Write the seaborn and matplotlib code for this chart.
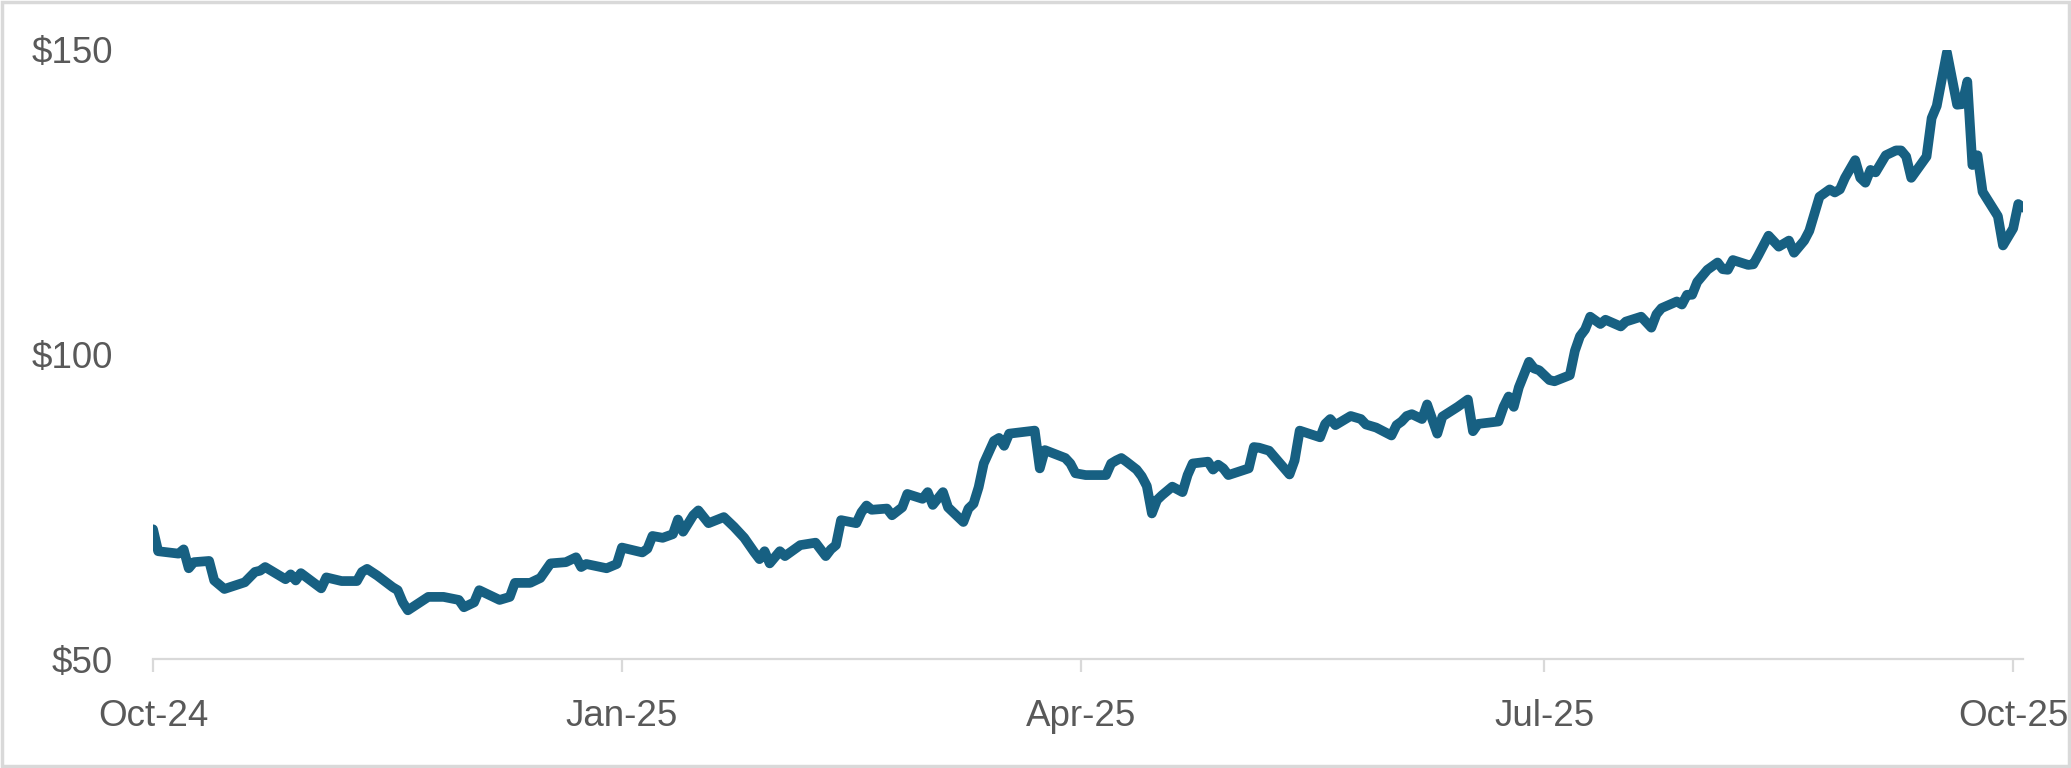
"""
Share price, Oct-24 to Oct-25 -- single line chart, Excel-like styling.
"""

import pandas as pd
import matplotlib
matplotlib.use("Agg")
import matplotlib.pyplot as plt
import matplotlib.dates as mdates
from matplotlib.patches import Rectangle
from matplotlib.ticker import FixedLocator, FuncFormatter
import seaborn as sns

# ── Data ──────────────────────────────────────────────────────────────────────
DATES = [
    "2024-10-01", "2024-10-02", "2024-10-06", "2024-10-07", "2024-10-08", "2024-10-09",
    "2024-10-12", "2024-10-13", "2024-10-15", "2024-10-19", "2024-10-21", "2024-10-22",
    "2024-10-23", "2024-10-27", "2024-10-28", "2024-10-29", "2024-10-30",
    "2024-11-03", "2024-11-04", "2024-11-07", "2024-11-10", "2024-11-11", "2024-11-12",
    "2024-11-14", "2024-11-17", "2024-11-18", "2024-11-19", "2024-11-20", "2024-11-24",
    "2024-11-27", "2024-11-30",
    "2024-12-01", "2024-12-03", "2024-12-04", "2024-12-07", "2024-12-08", "2024-12-10",
    "2024-12-11", "2024-12-14", "2024-12-16", "2024-12-18", "2024-12-21", "2024-12-23",
    "2024-12-24", "2024-12-25", "2024-12-29", "2024-12-31",
    "2025-01-01", "2025-01-05", "2025-01-06", "2025-01-07", "2025-01-09", "2025-01-11",
    "2025-01-12", "2025-01-13", "2025-01-15", "2025-01-16", "2025-01-18", "2025-01-21",
    "2025-01-23", "2025-01-25", "2025-01-27", "2025-01-28", "2025-01-29", "2025-01-30",
    "2025-02-01", "2025-02-02", "2025-02-05", "2025-02-08", "2025-02-10", "2025-02-11",
    "2025-02-12", "2025-02-13", "2025-02-16", "2025-02-17", "2025-02-18", "2025-02-19",
    "2025-02-22", "2025-02-23", "2025-02-25", "2025-02-26",
    "2025-03-01", "2025-03-02", "2025-03-03", "2025-03-05", "2025-03-06", "2025-03-09",
    "2025-03-10", "2025-03-11", "2025-03-12", "2025-03-13", "2025-03-15", "2025-03-16",
    "2025-03-17", "2025-03-18", "2025-03-23", "2025-03-24", "2025-03-25", "2025-03-29",
    "2025-03-30", "2025-03-31",
    "2025-04-02", "2025-04-06", "2025-04-07", "2025-04-08", "2025-04-09", "2025-04-10",
    "2025-04-12", "2025-04-13", "2025-04-14", "2025-04-15", "2025-04-16", "2025-04-17",
    "2025-04-19", "2025-04-21", "2025-04-22", "2025-04-23", "2025-04-26", "2025-04-27",
    "2025-04-28", "2025-04-29", "2025-04-30",
    "2025-05-04", "2025-05-05", "2025-05-06", "2025-05-08", "2025-05-12", "2025-05-13",
    "2025-05-14", "2025-05-18", "2025-05-19", "2025-05-20", "2025-05-21", "2025-05-24",
    "2025-05-26", "2025-05-27", "2025-05-29",
    "2025-06-01", "2025-06-02", "2025-06-03", "2025-06-04", "2025-06-05", "2025-06-07",
    "2025-06-08", "2025-06-10", "2025-06-11", "2025-06-14", "2025-06-16", "2025-06-17",
    "2025-06-18", "2025-06-22", "2025-06-23", "2025-06-24", "2025-06-25", "2025-06-26",
    "2025-06-28", "2025-06-29", "2025-06-30",
    "2025-07-02", "2025-07-03", "2025-07-06", "2025-07-07", "2025-07-08", "2025-07-09",
    "2025-07-10", "2025-07-12", "2025-07-13", "2025-07-16", "2025-07-17", "2025-07-20",
    "2025-07-22", "2025-07-23", "2025-07-24", "2025-07-27", "2025-07-28", "2025-07-29",
    "2025-07-30", "2025-07-31",
    "2025-08-02", "2025-08-04", "2025-08-05", "2025-08-06", "2025-08-07", "2025-08-10",
    "2025-08-11", "2025-08-12", "2025-08-14", "2025-08-16", "2025-08-18", "2025-08-19",
    "2025-08-21", "2025-08-22", "2025-08-24", "2025-08-26", "2025-08-27", "2025-08-28",
    "2025-08-29", "2025-08-31",
    "2025-09-01", "2025-09-02", "2025-09-03", "2025-09-04", "2025-09-06", "2025-09-08",
    "2025-09-09", "2025-09-10", "2025-09-11", "2025-09-14", "2025-09-15", "2025-09-16",
    "2025-09-17", "2025-09-18", "2025-09-20", "2025-09-21", "2025-09-22", "2025-09-23",
    "2025-09-24", "2025-09-25", "2025-09-28", "2025-09-29",
    "2025-10-01", "2025-10-02", "2025-10-03",
]

PRICES = [
    71.3, 67.7, 67.3, 68.0, 64.9, 65.9,
    66.1, 62.9, 61.5, 62.6, 64.3, 64.5,
    65.1, 63.1, 63.9, 62.9, 64.1,
    61.6, 63.4, 62.8, 62.8, 64.3, 64.8,
    63.7, 61.8, 61.3, 59.3, 58.0, 60.2,
    60.2, 59.7,
    58.5, 59.3, 61.3, 60.1, 59.7, 60.2,
    62.5, 62.5, 63.3, 65.7, 65.9, 66.7,
    65.1, 65.6, 64.9, 65.6,
    68.3, 67.5, 68.1, 70.2, 69.9, 70.5,
    72.9, 70.9, 73.6, 74.4, 72.3, 73.3,
    71.7, 69.9, 67.5, 66.4, 67.7, 65.7,
    67.7, 66.9, 68.7, 69.1, 66.9, 68.0,
    68.7, 72.8, 72.3, 74.1, 75.2, 74.5,
    74.7, 73.6, 74.9, 77.1,
    76.3, 77.4, 75.3, 77.4, 74.9, 72.5,
    74.7, 75.5, 78.2, 82.1, 85.8, 86.3,
    85.0, 87.0, 87.5, 81.3, 84.3, 83.0,
    82.1, 80.5,
    80.2, 80.2, 82.1, 82.6, 83.0, 82.4,
    81.1, 80.0, 78.4, 73.9, 76.1, 76.9,
    78.3, 77.4, 80.2, 82.1, 82.4, 81.1,
    81.9, 81.3, 80.2,
    81.3, 84.8, 84.7, 84.2, 80.3, 82.6,
    87.5, 86.4, 88.6, 89.4, 88.4, 89.9,
    89.4, 88.5, 88.0,
    86.7, 88.4, 89.0, 89.9, 90.2, 89.4,
    91.8, 87.0, 89.8, 91.4, 92.6, 87.4,
    88.6, 89.0, 91.4, 93.1, 91.4, 94.6,
    98.8, 97.7, 97.4,
    95.8, 95.6, 96.6, 100.6, 103.0, 104.1,
    106.2, 105.0, 105.7, 104.6, 105.4, 106.2,
    104.4, 106.6, 107.6, 108.7, 108.2, 109.8,
    109.8, 111.9,
    113.9, 115.1, 114.0, 113.9, 115.5, 114.7,
    114.8, 116.3, 119.5, 117.7, 118.7, 116.7,
    118.7, 120.3, 125.9, 127.1, 126.6, 127.1,
    129.0, 131.9,
    129.0, 128.2, 130.3, 129.9, 132.7, 133.5,
    133.5, 132.5, 129.0, 132.5, 138.8, 140.8,
    145.2, 149.6, 141.0, 141.1, 144.8, 131.1,
    132.7, 126.7, 122.7, 117.9,
    120.7, 124.7, 124.1,
]

TICK_DATES  = ["2024-10-01", "2025-01-01", "2025-04-01", "2025-07-01", "2025-10-01"]
TICK_LABELS = ["Oct-24", "Jan-25", "Apr-25", "Jul-25", "Oct-25"]
Y_TICKS     = [50, 100, 150]

LINE_COLOR = "#176082"
AXIS_GRAY  = "#D9D9D9"
TEXT_GRAY  = "#595959"

# ── Style ─────────────────────────────────────────────────────────────────────
sns.set_theme(style="white")
plt.rcParams["font.family"] = ["Liberation Sans", "DejaVu Sans"]

df = pd.DataFrame({"date": pd.to_datetime(DATES), "price": PRICES})

fig = plt.figure(figsize=(20.71, 7.68), dpi=100)
ax = fig.add_axes([0.0739, 0.1419, 0.9031, 0.7931])

sns.lineplot(data=df, x="date", y="price", ax=ax, color=LINE_COLOR,
             linewidth=7, solid_joinstyle="round", solid_capstyle="round")

ax.set_ylim(50, 150)
ax.set_xlim(df["date"].min(), df["date"].max())

ax.yaxis.set_major_locator(FixedLocator(Y_TICKS))
ax.yaxis.set_major_formatter(FuncFormatter(lambda v, _: f"${v:.0f}"))
ax.set_xticks(mdates.date2num(pd.to_datetime(TICK_DATES)))
ax.set_xticklabels(TICK_LABELS)

ax.set_xlabel("")
ax.set_ylabel("")
for side in ["top", "right", "left"]:
    ax.spines[side].set_visible(False)
ax.spines["bottom"].set_color(AXIS_GRAY)
ax.spines["bottom"].set_linewidth(1.6)
ax.spines["bottom"].set_zorder(0)

ax.tick_params(axis="x", which="major", bottom=True, length=9.5, width=1.6,
               color=AXIS_GRAY, labelsize=26.5, labelcolor=TEXT_GRAY, pad=19)
ax.tick_params(axis="y", which="major", left=False, labelsize=26.5,
               labelcolor=TEXT_GRAY, pad=23)
ax.grid(False)

# thin light-grey frame round the whole chart
fig.patches.append(Rectangle((0.001, 0.002), 0.998, 0.996, transform=fig.transFigure,
                             fill=False, edgecolor=AXIS_GRAY, linewidth=2.5))

fig.savefig("out.png", dpi=100)
